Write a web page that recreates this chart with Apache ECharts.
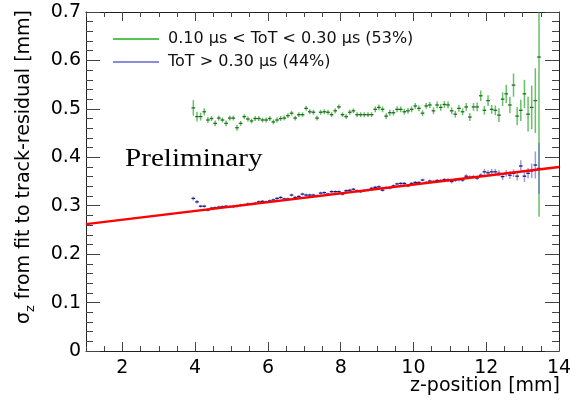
<!DOCTYPE html>
<html><head><meta charset="utf-8">
<script src="https://cdn.jsdelivr.net/npm/echarts@6/dist/echarts.min.js"></script>
<style>html,body{margin:0;padding:0;background:#fff}#c{width:582px;height:403px}</style>
</head><body><div id="c"></div>
<script>
// bin centres of z-position [mm]
const zCenters = [
  3.95,4.05,4.15,4.25,4.35,4.45,4.55,4.65,4.75,4.85,
  4.95,5.05,5.15,5.25,5.35,5.45,5.55,5.65,5.75,5.85,
  5.95,6.05,6.15,6.25,6.35,6.45,6.55,6.65,6.75,6.85,
  6.95,7.05,7.15,7.25,7.35,7.45,7.55,7.65,7.75,7.85,
  7.95,8.05,8.15,8.25,8.35,8.45,8.55,8.65,8.75,8.85,
  8.95,9.05,9.15,9.25,9.35,9.45,9.55,9.65,9.75,9.85,
  9.95,10.05,10.15,10.25,10.35,10.45,10.55,10.65,10.75,10.85,
  10.95,11.05,11.15,11.25,11.35,11.45,11.55,11.65,11.75,11.85,
  11.95,12.05,12.15,12.25,12.35,12.45,12.55,12.65,12.75,12.85,
  12.95,13.05,13.15,13.25,13.35,13.45
];
// 0.10 us < ToT < 0.30 us
const greenValues = [
  0.502,0.484,0.484,0.494,0.477,0.480,0.470,0.481,0.477,0.470,
  0.481,0.481,0.461,0.470,0.484,0.479,0.475,0.480,0.480,0.477,
  0.477,0.480,0.473,0.477,0.480,0.481,0.486,0.491,0.481,0.488,
  0.488,0.501,0.494,0.493,0.481,0.493,0.494,0.493,0.488,0.496,
  0.504,0.488,0.484,0.493,0.496,0.488,0.488,0.488,0.488,0.488,
  0.499,0.503,0.499,0.485,0.492,0.492,0.499,0.499,0.494,0.496,
  0.499,0.506,0.501,0.491,0.506,0.508,0.496,0.508,0.503,0.509,
  0.508,0.496,0.489,0.501,0.494,0.504,0.483,0.504,0.504,0.527,
  0.497,0.517,0.499,0.497,0.487,0.520,0.531,0.508,0.549,0.485,
  0.497,0.531,0.489,0.503,0.517,0.607
];
const greenErrors = [
  0.016,0.010,0.008,0.007,0.006,0.005,0.006,0.005,0.005,0.006,
  0.005,0.005,0.006,0.005,0.005,0.005,0.005,0.005,0.005,0.005,
  0.005,0.005,0.005,0.005,0.005,0.005,0.005,0.005,0.005,0.005,
  0.005,0.005,0.005,0.005,0.005,0.005,0.005,0.005,0.005,0.005,
  0.005,0.005,0.005,0.005,0.005,0.005,0.005,0.005,0.005,0.005,
  0.006,0.006,0.006,0.006,0.006,0.006,0.006,0.006,0.006,0.006,
  0.006,0.006,0.006,0.006,0.006,0.006,0.007,0.007,0.007,0.007,
  0.007,0.007,0.007,0.007,0.007,0.008,0.008,0.008,0.009,0.011,
  0.009,0.011,0.009,0.010,0.014,0.014,0.019,0.017,0.024,0.019,
  0.022,0.029,0.036,0.045,0.067,0.330
];
// ToT > 0.30 us
const blueValues = [
  0.315,0.308,0.299,0.299,0.291,0.295,0.296,0.297,0.298,0.299,
  0.298,0.298,0.299,0.301,0.3015,0.3035,0.3035,0.305,0.308,0.309,
  0.308,0.310,0.312,0.315,0.317,0.314,0.314,0.322,0.317,0.319,
  0.324,0.322,0.322,0.322,0.320,0.326,0.327,0.324,0.329,0.329,
  0.329,0.324,0.331,0.332,0.334,0.331,0.329,0.331,0.332,0.336,
  0.338,0.339,0.332,0.337,0.337,0.341,0.345,0.346,0.346,0.341,
  0.346,0.348,0.348,0.353,0.348,0.351,0.350,0.352,0.352,0.354,
  0.353,0.350,0.353,0.354,0.353,0.361,0.359,0.360,0.357,0.363,
  0.370,0.368,0.370,0.370,0.367,0.360,0.367,0.363,0.367,0.361,
  0.382,0.361,0.367,0.372,0.384,0.377
];
const blueErrors = [
  0.004,0.004,0.003,0.003,0.003,0.003,0.003,0.003,0.003,0.003,
  0.003,0.003,0.003,0.003,0.003,0.003,0.003,0.003,0.003,0.003,
  0.003,0.003,0.003,0.003,0.003,0.003,0.003,0.003,0.003,0.003,
  0.003,0.003,0.003,0.003,0.003,0.003,0.003,0.003,0.003,0.003,
  0.003,0.003,0.003,0.003,0.003,0.003,0.003,0.003,0.003,0.003,
  0.003,0.003,0.003,0.003,0.003,0.003,0.003,0.003,0.003,0.003,
  0.003,0.003,0.003,0.003,0.003,0.003,0.003,0.003,0.003,0.003,
  0.004,0.004,0.004,0.004,0.004,0.004,0.004,0.004,0.004,0.004,
  0.006,0.005,0.006,0.006,0.006,0.007,0.007,0.008,0.008,0.009,
  0.012,0.012,0.011,0.015,0.028,0.053
];
// straight-line fit
const fitZ = [1, 14];
const fitSigma = [0.262, 0.380];
const xTickLabels = [2, 4, 6, 8, 10, 12, 14];
const seriesNames = ['0.10 \u03bcs < ToT < 0.30 \u03bcs (53%)', 'ToT > 0.30 \u03bcs (44%)'];

const X_MIN = 1, X_MAX = 14, Y_MIN = 0, Y_MAX = 0.7;
const HALF_BIN = 0.05;
const FONT = '"DejaVu Sans", sans-serif';

function makeRender(vColor, hColor) {
  return function (params, api) {
    const x = api.value(0), y = api.value(1), e = api.value(2);
    const top = Math.min(y + e, Y_MAX), bot = Math.max(y - e, Y_MIN);
    const pT = api.coord([x, top]), pB = api.coord([x, bot]);
    const pL = api.coord([x - HALF_BIN, y]), pR = api.coord([x + HALF_BIN, y]);
    return {
      type: 'group',
      children: [
        { type: 'line', shape: { x1: pT[0], y1: pT[1], x2: pB[0], y2: pB[1] },
          style: { stroke: vColor, lineWidth: 1.5 } },
        { type: 'line', shape: { x1: pL[0], y1: pL[1], x2: pR[0], y2: pR[1] },
          style: { stroke: hColor, lineWidth: 1.3 } }
      ]
    };
  };
}

const greenData = zCenters.map((z, i) => [z, greenValues[i], greenErrors[i]]);
const blueData = zCenters.map((z, i) => [z, blueValues[i], blueErrors[i]]);
const fitData = fitZ.map((z, i) => [z, fitSigma[i]]);

const axisCol = '#222';
const tickCol = '#444';

function xAxisDef(pos, major, showLabel) {
  const a = {
    type: 'value', position: pos, min: X_MIN, max: X_MAX,
    axisLine: { show: major, onZero: false, lineStyle: { color: axisCol, width: 1 } },
    splitLine: { show: false },
    axisLabel: { show: false },
    axisTick: { show: true, inside: true, lineStyle: { color: tickCol, width: 1 } }
  };
  if (major) {
    a.axisTick.customValues = xTickLabels;
    a.axisTick.length = 9;
    if (showLabel) {
      a.axisLabel = { show: true, customValues: xTickLabels, margin: 8,
        fontFamily: FONT, fontSize: 19, color: '#000' };
    }
  } else {
    a.interval = 0.5;
    a.axisTick.length = 5;
  }
  return a;
}
function yAxisDef(pos, showLabel) {
  return {
    type: 'value', position: pos, min: Y_MIN, max: Y_MAX, interval: 0.1,
    axisLine: { show: true, onZero: false, lineStyle: { color: axisCol, width: 1 } },
    splitLine: { show: false },
    axisTick: { show: true, inside: true, length: 14, lineStyle: { color: tickCol, width: 1 } },
    minorTick: { show: true, splitNumber: 5, length: 7, lineStyle: { color: tickCol, width: 1 } },
    axisLabel: { show: showLabel, margin: 5, fontFamily: FONT, fontSize: 19, color: '#000',
      formatter: v => (Math.round(v * 10) / 10).toString() }
  };
}

const chart = echarts.init(document.getElementById('c'), null, { renderer: 'canvas' });
chart.setOption({
  animation: false,
  backgroundColor: '#fff',
  grid: { left: 86, top: 12, right: 23, bottom: 52, containLabel: false },
  xAxis: [
    xAxisDef('bottom', true, true),
    xAxisDef('bottom', false, false),
    xAxisDef('top', true, false),
    xAxisDef('top', false, false)
  ],
  yAxis: [yAxisDef('left', true), yAxisDef('right', false)],
  legend: {
    data: seriesNames,
    orient: 'vertical', left: 108, top: 26, itemGap: 7,
    icon: 'rect', itemWidth: 46, itemHeight: 2,
    textStyle: { fontFamily: FONT, fontSize: 16, color: '#111', padding: [0, 0, 0, 4] },
    selectedMode: false
  },
  series: [
    { name: seriesNames[0], type: 'custom', xAxisIndex: 0, yAxisIndex: 0,
      itemStyle: { color: '#55c455' },
      renderItem: makeRender('rgba(40,165,40,0.7)', '#1f6e1f'),
      encode: { x: 0, y: 1 }, data: greenData, z: 3 },
    { name: seriesNames[1], type: 'custom', xAxisIndex: 0, yAxisIndex: 0,
      itemStyle: { color: '#8c8cdc' },
      renderItem: makeRender('rgba(90,90,205,0.6)', '#1c1c7c'),
      encode: { x: 0, y: 1 }, data: blueData, z: 3 },
    { name: 'fit', type: 'line', xAxisIndex: 0, yAxisIndex: 0,
      data: fitData, symbol: 'none', silent: true,
      lineStyle: { color: '#ff0000', width: 2.5 }, z: 4 }
  ],
  graphic: [
    { type: 'text', x: 24, y: 10, rotation: Math.PI / 2,
      style: { text: '{a|\u03c3}{b|z}{a| from fit to track-residual [mm]}',
        align: 'right', verticalAlign: 'middle',
        rich: {
          a: { fontFamily: FONT, fontSize: 19, fill: '#000', lineHeight: 26 },
          b: { fontFamily: FONT, fontSize: 13, fill: '#000', lineHeight: 26, verticalAlign: 'bottom' }
        } } },
    { type: 'text', x: 560, y: 386,
      style: { text: 'z-position [mm]', align: 'right', verticalAlign: 'middle',
        font: '19px "DejaVu Sans", sans-serif', fill: '#000' } },
    { type: 'text', x: 125, y: 159, scaleX: 1.12, z: 10,
      style: { text: 'Preliminary', align: 'left', verticalAlign: 'middle',
        font: '26px "Liberation Serif", "Times New Roman", serif', fill: '#000' } }
  ]
});
</script></body></html>
